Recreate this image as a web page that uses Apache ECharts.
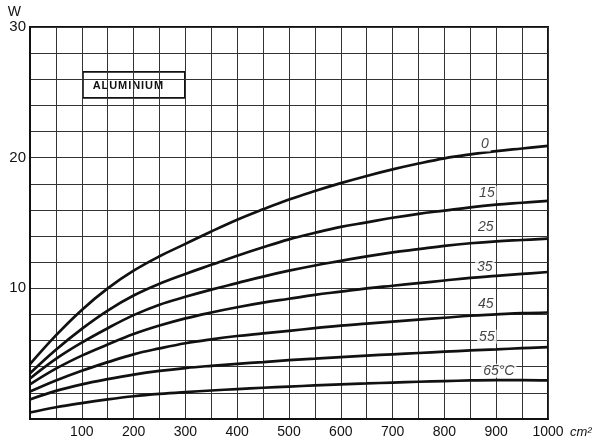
<!DOCTYPE html>
<html>
<head>
<meta charset="utf-8">
<script src="https://cdn.jsdelivr.net/npm/echarts@6/dist/echarts.min.js"></script>
<style>
html,body{margin:0;padding:0;background:#fff;}
#chart{width:598px;height:445px;}
</style>
</head>
<body>
<div id="chart"></div>
<script>
// area (cm²)
var xValues = [0,50,100,150,200,250,300,350,400,450,500,550,600,650,700,750,800,850,900,950,1000];
// power W for each temperature rise
var curve0  = [4.2,6.4,8.35,10.0,11.35,12.45,13.4,14.35,15.25,16.05,16.8,17.45,18.05,18.6,19.1,19.55,19.95,20.25,20.5,20.7,20.9];
var curve15 = [3.5,5.3,6.9,8.3,9.45,10.35,11.1,11.8,12.5,13.15,13.75,14.25,14.7,15.05,15.4,15.7,15.95,16.2,16.4,16.55,16.7];
var curve25 = [3.1,4.6,5.85,6.95,7.95,8.75,9.35,9.9,10.4,10.9,11.35,11.75,12.1,12.45,12.75,13.0,13.25,13.45,13.6,13.7,13.8];
var curve35 = [2.65,3.85,4.85,5.7,6.5,7.15,7.7,8.15,8.55,8.9,9.2,9.5,9.75,10.0,10.2,10.4,10.6,10.8,10.95,11.1,11.25];
var curve45 = [2.1,2.95,3.7,4.35,4.95,5.4,5.8,6.1,6.35,6.55,6.75,6.95,7.15,7.3,7.45,7.6,7.75,7.9,8.0,8.1,8.15];
var curve55 = [1.5,2.15,2.65,3.05,3.4,3.68,3.9,4.07,4.22,4.36,4.5,4.62,4.74,4.85,4.95,5.05,5.15,5.25,5.33,5.42,5.5];
var curve65 = [0.5,0.9,1.22,1.5,1.74,1.92,2.06,2.18,2.29,2.39,2.48,2.57,2.65,2.72,2.79,2.85,2.9,2.95,2.98,2.98,2.96];
var curveNames = ['0','15','25','35','45','55','65°C'];
var curveLabelAnchors = [[878,21.0],[882,17.3],[880,14.7],[878,11.65],[880,8.8],[882,6.3],[905,3.7]];
var xTickLabels = ['100','200','300','400','500','600','700','800','900','1000'];
var yTickLabels = ['10','20','30'];
var boxTitle = 'ALUMINIUM';

var curves = [curve0,curve15,curve25,curve35,curve45,curve55,curve65];
var chart = echarts.init(document.getElementById('chart'), null, {renderer:'canvas'});
var font = '"Liberation Sans", Arial, sans-serif';

var series = curves.map(function(c, i){
  return {
    type:'line', name:curveNames[i], showSymbol:false, smooth:0.4,
    lineStyle:{color:'#111', width:2.7}, z:5,
    data: xValues.map(function(x, j){ return [x, c[j]]; })
  };
});
series.push({
  type:'scatter', symbolSize:0, z:10,
  data: curveLabelAnchors.map(function(p, i){ return {value:p, name:curveNames[i]}; }),
  label:{show:true, position:'inside', formatter:function(p){return p.name;},
    fontFamily:font, fontStyle:'italic', fontSize:14, color:'#111',
    backgroundColor:'#fff', padding:[0,2,0,2]}
});

chart.setOption({
  animation:false,
  backgroundColor:'#fff',
  grid:{left:30, right:50, top:27, bottom:26, show:true, borderColor:'#111', borderWidth:2, backgroundColor:'transparent'},
  xAxis:{
    type:'value', min:0, max:1000, interval:50,
    name:'cm²', nameLocation:'end', nameGap:22,
    nameTextStyle:{fontFamily:font, fontStyle:'italic', fontSize:13, color:'#111', align:'left', verticalAlign:'top', padding:[7,0,0,0]},
    axisLine:{show:true, lineStyle:{color:'#111', width:2}},
    axisTick:{show:false},
    axisLabel:{fontFamily:font, fontSize:14, color:'#111', margin:6, showMinLabel:false,
      formatter:function(v){ var s=String(v); return xTickLabels.indexOf(s)>=0 ? s : ''; }},
    splitLine:{show:true, lineStyle:{color:'#333', width:1}}
  },
  yAxis:{
    type:'value', min:0, max:30, interval:2,
    name:'W', nameLocation:'end', nameGap:6,
    nameTextStyle:{fontFamily:font, fontSize:14, color:'#111', align:'right', padding:[0,9,0,0]},
    axisLine:{show:true, lineStyle:{color:'#111', width:2}},
    axisTick:{show:false},
    axisLabel:{fontFamily:font, fontSize:15, color:'#111', margin:4,
      formatter:function(v){ var s=String(v); return yTickLabels.indexOf(s)>=0 ? s : ''; }},
    splitLine:{show:true, lineStyle:{color:'#333', width:1}}
  },
  graphic:[{
    type:'group', left:82, top:71, z:20,
    children:[
      {type:'rect', shape:{x:0,y:0,width:102,height:26}, style:{fill:'#fff', stroke:'#111', lineWidth:1.8}},
      {type:'text', x:45, y:14, style:{text:boxTitle.split('').join('\u200A'), fill:'#111', font:'bold 11px '+font, align:'center', verticalAlign:'middle'}}
    ]
  }],
  series: series
});
</script>
</body>
</html>
